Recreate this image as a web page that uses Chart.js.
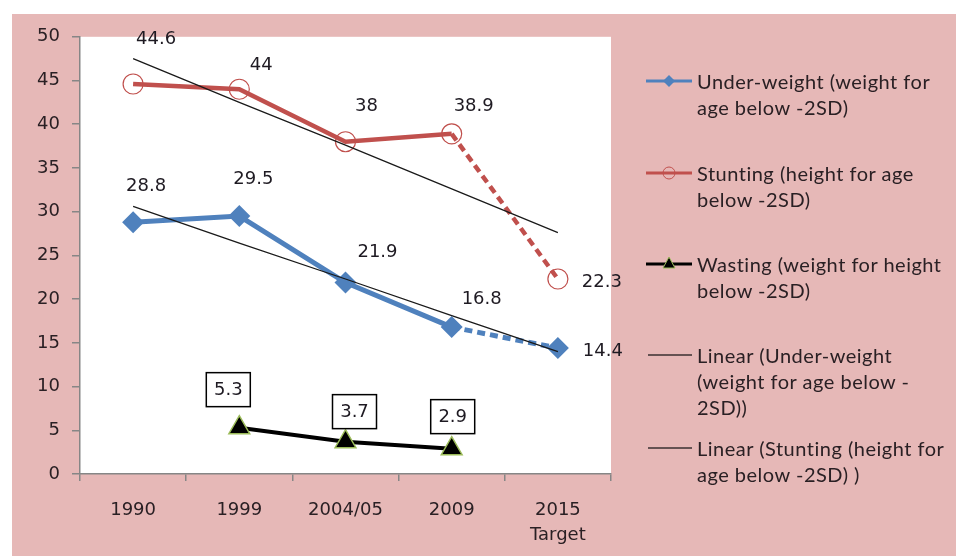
<!DOCTYPE html>
<html lang="en">
<head>
<meta charset="UTF-8">
<title>Under-weight, stunting and wasting</title>
<script src="https://cdn.jsdelivr.net/npm/chart.js"></script>
<style>
    body { margin: 0; background: #ffffff; }
    #wrap { position: absolute; left: 12px; top: 14px; width: 944px; height: 542px; background: #e6b8b7; }
    #chart { position: absolute; left: 0; top: 0; }
    .key { position: absolute; left: 634px; width: 46px; height: 26px; }
    .txt { position: absolute; left: 685px; font-family: "Lato", sans-serif; font-size: 20px; letter-spacing: 0.5px; line-height: 26px; color: #2a2024; white-space: nowrap; }
</style>
</head>
<body>
<div id="wrap">
    <canvas id="chart" width="944" height="542"></canvas>

    <svg class="key" style="top:54px" viewBox="0 0 46 26"><line x1="0" y1="13" x2="46" y2="13" stroke="#4f81bd" stroke-width="3"/><polygon points="23,7 29,13 23,19 17,13" fill="#4f81bd"/></svg>
    <div class="txt" style="top:54px">Under-weight (weight for<br>age below -2SD)</div>

    <svg class="key" style="top:146px" viewBox="0 0 46 26"><line x1="0" y1="13" x2="46" y2="13" stroke="#c0504d" stroke-width="3"/><circle cx="23" cy="13" r="6" fill="none" stroke="#c0504d" stroke-width="1"/></svg>
    <div class="txt" style="top:146px">Stunting (height for age<br>below -2SD)</div>

    <svg class="key" style="top:237px" viewBox="0 0 46 26"><line x1="0" y1="13" x2="46" y2="13" stroke="#000" stroke-width="3"/><polygon points="23,6 29,17 17,17" fill="#000" stroke="#9bbb59" stroke-width="1"/></svg>
    <div class="txt" style="top:237px">Wasting (weight for height<br>below -2SD)</div>

    <svg class="key" style="top:328px" viewBox="0 0 46 26"><line x1="2" y1="13" x2="46" y2="13" stroke="#3a3030" stroke-width="1.5"/></svg>
    <div class="txt" style="top:328px">Linear (Under-weight<br>(weight for age below -<br>2SD))</div>

    <svg class="key" style="top:421px" viewBox="0 0 46 26"><line x1="2" y1="13" x2="46" y2="13" stroke="#3a3030" stroke-width="1.5"/></svg>
    <div class="txt" style="top:421px">Linear (Stunting (height for<br>age below -2SD) )</div>
</div>

<script>
    // categories and values
    const years = ["1990", "1999", "2004/05", "2009", ["2015", "Target"]];
    const underWeight = [28.8, 29.5, 21.9, 16.8, 14.4];
    const stunting = [44.6, 44, 38, 38.9, 22.3];
    const wasting = [null, 5.3, 3.7, 2.9, null];
    const trendUnderWeight = [30.6, 26.4, 22.3, 18.1, 14.0];
    const trendStunting = [47.5, 42.5, 37.6, 32.6, 27.6];
    const yMin = 0, yMax = 50, yStep = 5;

    // where each value label sits relative to its point (px)
    const labelOffsets = {
        0: [[13, -37], [14, -38], [32, -31], [30, -29], [45, 2]],
        1: [[23, -46], [22, -25], [21, -36], [22, -29], [44, 2]],
        2: [null, [-11, -38], [9, -30], [1, -32], null]
    };

    const dashLast = ctx => ctx.p0DataIndex === 3 ? [8, 5] : undefined;

    const plotBg = {
        id: "plotBg",
        beforeDraw(chart) {
            const a = chart.chartArea;
            chart.ctx.save();
            chart.ctx.fillStyle = "#ffffff";
            chart.ctx.fillRect(a.left, a.top, a.right - a.left, a.bottom - a.top);
            chart.ctx.restore();
        }
    };

    const valueLabels = {
        id: "valueLabels",
        afterDatasetsDraw(chart) {
            const ctx = chart.ctx;
            ctx.save();
            ctx.font = '18px "DejaVu Sans"';
            ctx.textAlign = "center";
            ctx.textBaseline = "middle";
            Object.keys(labelOffsets).forEach(i => {
                const ds = chart.data.datasets[i];
                const meta = chart.getDatasetMeta(i);
                meta.data.forEach((pt, j) => {
                    const off = labelOffsets[i][j];
                    if (!off || ds.data[j] == null) return;
                    const x = pt.x + off[0], y = pt.y + off[1];
                    if (ds.boxed) {
                        ctx.fillStyle = "#ffffff";
                        ctx.fillRect(x - 22, y - 17, 44, 34);
                        ctx.strokeStyle = "#000000";
                        ctx.lineWidth = 1.5;
                        ctx.strokeRect(x - 22, y - 17, 44, 34);
                    }
                    ctx.fillStyle = "#1e1a22";
                    ctx.fillText(String(ds.data[j]), x, y + 1);
                });
            });
            ctx.restore();
        }
    };

    new Chart(document.getElementById("chart"), {
        type: "line",
        data: {
            labels: years,
            datasets: [
                {
                    label: "Under-weight (weight for age below -2SD)",
                    data: underWeight,
                    borderColor: "#4f81bd",
                    backgroundColor: "#4f81bd",
                    borderWidth: 5,
                    pointStyle: "rectRot",
                    pointRadius: 11,
                    pointBorderWidth: 0,
                    segment: { borderDash: dashLast },
                    order: 1
                },
                {
                    label: "Stunting (height for age below -2SD)",
                    data: stunting,
                    borderColor: "#c0504d",
                    backgroundColor: "rgba(0,0,0,0)",
                    borderWidth: 4.5,
                    pointStyle: "circle",
                    pointRadius: 10,
                    pointBorderWidth: 1.2,
                    pointBorderColor: "#c0504d",
                    segment: { borderDash: dashLast },
                    order: 1
                },
                {
                    label: "Wasting (weight for height below -2SD)",
                    data: wasting,
                    borderColor: "#000000",
                    backgroundColor: "#000000",
                    borderWidth: 4,
                    pointStyle: "triangle",
                    pointRadius: 12,
                    pointBorderWidth: 1.5,
                    pointBorderColor: "#9bbb59",
                    boxed: true,
                    order: 1
                },
                {
                    label: "Linear (Under-weight (weight for age below -2SD))",
                    data: trendUnderWeight,
                    borderColor: "#1a1a1a",
                    borderWidth: 1.3,
                    pointRadius: 0,
                    order: 0
                },
                {
                    label: "Linear (Stunting (height for age below -2SD) )",
                    data: trendStunting,
                    borderColor: "#1a1a1a",
                    borderWidth: 1.3,
                    pointRadius: 0,
                    order: 0
                }
            ]
        },
        options: {
            responsive: false,
            animation: false,
            layout: { padding: { top: 19, right: 345, left: 0, bottom: 0 } },
            plugins: {
                legend: { display: false },
                tooltip: { enabled: false }
            },
            scales: {
                x: {
                    offset: true,
                    afterFit(scale) { scale.height = 82; },
                    grid: { offset: true, drawOnChartArea: false, drawTicks: true, tickLength: 7, color: "#868686", lineWidth: 1.5 },
                    border: { color: "#868686", width: 1.5 },
                    ticks: { color: "#2a2024", padding: 17, maxRotation: 0, font: { family: "DejaVu Sans", size: 18, lineHeight: 1.4 } }
                },
                y: {
                    min: yMin,
                    max: yMax,
                    afterFit(scale) { scale.width = 68; },
                    grid: { drawOnChartArea: false, drawTicks: true, tickLength: 8, color: "#868686", lineWidth: 1.5 },
                    border: { color: "#868686", width: 1.5 },
                    ticks: { stepSize: yStep, color: "#2a2024", padding: 12, font: { family: "DejaVu Sans", size: 18 } }
                }
            }
        },
        plugins: [plotBg, valueLabels]
    });
</script>
</body>
</html>
